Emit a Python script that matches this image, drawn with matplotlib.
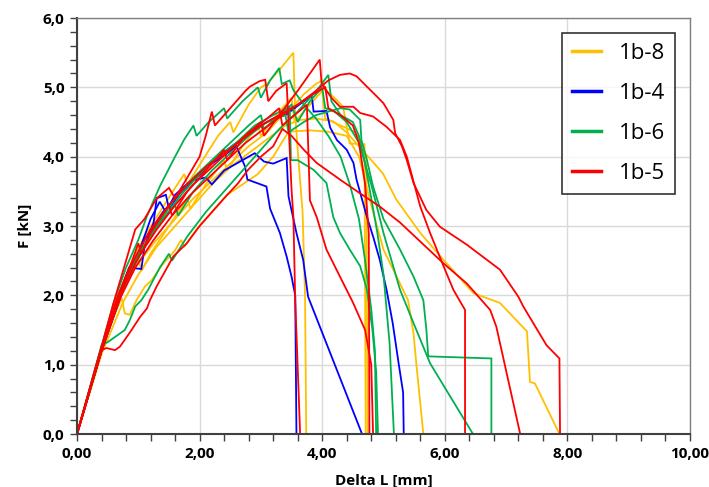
import matplotlib
matplotlib.use("Agg")
import matplotlib.pyplot as plt
from matplotlib.ticker import MultipleLocator, FuncFormatter

# force-displacement curves, Delta L in mm, F in kN
# series 1b-8
y8_1_x = [0, 0.35, 0.6, 0.85, 1.1, 1.35, 1.6, 1.75, 1.8, 2.05, 2.3, 2.5, 2.55, 2.8, 3.0, 3.1, 3.3, 3.53, 3.56, 3.6, 3.68, 3.72, 3.74]
y8_1_f = [0, 1.1, 1.85, 2.4, 2.85, 3.2, 3.55, 3.75, 3.6, 3.95, 4.3, 4.5, 4.35, 4.75, 5.0, 5.05, 5.25, 5.5, 4.6, 4.1, 3.2, 2.0, 0]
y8_2_x = [0, 0.4, 0.7, 0.95, 1.25, 1.55, 1.9, 2.2, 2.5, 2.8, 3.1, 3.3, 3.5, 3.7, 3.9, 4.0, 4.05, 4.2, 4.34, 4.45, 4.69, 4.71]
y8_2_f = [0, 1.2, 2.0, 2.4, 2.75, 3.05, 3.4, 3.65, 3.9, 4.15, 4.35, 4.55, 4.7, 4.9, 5.05, 5.1, 4.96, 4.85, 4.72, 4.19, 4.18, 0]
y8_3_x = [0, 0.4, 0.6, 0.73, 0.78, 0.86, 0.97, 1.11, 1.22, 1.4, 1.6, 1.7, 1.75, 1.95, 2.2, 2.45, 2.7, 2.95, 3.2, 3.45, 3.8, 4.1, 4.4, 4.6, 4.8, 5.0, 5.27, 5.4, 5.49, 5.54, 5.65]
y8_3_f = [0, 1.2, 1.7, 1.96, 1.74, 1.72, 1.93, 2.13, 2.22, 2.45, 2.65, 2.8, 2.7, 2.95, 3.2, 3.45, 3.6, 3.75, 4.0, 4.36, 4.38, 4.36, 4.3, 4.0, 3.3, 2.66, 2.17, 1.93, 1.45, 0.97, 0]
y8_4_x = [0, 0.4, 0.75, 1.0, 1.3, 1.6, 1.9, 2.2, 2.5, 2.8, 3.1, 3.4, 3.64, 3.9, 4.18, 4.4, 4.7, 4.99, 5.21, 5.6, 5.98, 6.47, 6.9, 7.34, 7.39, 7.47, 7.87]
y8_4_f = [0, 1.15, 1.9, 2.3, 2.7, 3.0, 3.3, 3.6, 3.85, 4.05, 4.25, 4.45, 4.53, 4.55, 4.51, 4.35, 4.05, 3.76, 3.38, 2.9, 2.51, 2.03, 1.89, 1.48, 0.75, 0.73, 0]
y8_5_x = [0, 0.4, 0.7, 0.9, 1.0, 1.05, 1.2, 1.5, 1.8, 1.85, 2.1, 2.4, 2.45, 2.7, 2.95, 3.0, 3.25, 3.5, 3.55, 3.8, 4.0, 4.05, 4.3, 4.55, 4.65, 4.72, 4.74]
y8_5_f = [0, 1.2, 2.0, 2.4, 2.55, 2.35, 2.6, 3.0, 3.4, 3.25, 3.6, 3.95, 3.8, 4.15, 4.45, 4.3, 4.6, 4.85, 4.5, 4.75, 4.95, 4.55, 4.45, 4.35, 4.2, 4.0, 0]

# series 1b-4
y4_1_x = [0, 0.4, 0.7, 0.85, 1.05, 1.1, 1.25, 1.3, 1.45, 1.5, 1.7, 1.95, 2.2, 2.45, 2.6, 2.74, 2.78, 3.09, 3.15, 3.31, 3.42, 3.5, 3.56, 3.58]
y4_1_f = [0, 1.2, 2.05, 2.4, 2.38, 2.7, 3.05, 3.4, 3.45, 3.25, 3.5, 3.7, 3.9, 4.05, 4.15, 3.86, 3.67, 3.57, 3.25, 2.9, 2.56, 2.27, 2.0, 0]
y4_2_x = [0, 0.4, 0.75, 1.0, 1.2, 1.35, 1.45, 1.6, 1.85, 2.1, 2.2, 2.4, 2.7, 2.9, 3.05, 3.2, 3.42, 3.45, 3.58, 3.69, 3.77, 4.65]
y4_2_f = [0, 1.2, 2.1, 2.6, 3.1, 3.35, 3.2, 3.45, 3.65, 3.7, 3.6, 3.8, 3.95, 4.05, 3.93, 3.9, 3.98, 3.43, 2.9, 2.51, 1.98, 0]
y4_3_x = [0, 0.4, 0.8, 1.1, 1.4, 1.7, 2.0, 2.3, 2.6, 2.9, 3.2, 3.4, 3.55, 3.7, 3.83, 3.86, 4.07, 4.13, 4.24, 4.4, 4.51, 4.56, 4.73, 4.83, 4.94, 5.05, 5.15, 5.25, 5.32, 5.33]
y4_3_f = [0, 1.2, 2.2, 2.8, 3.2, 3.5, 3.75, 4.0, 4.2, 4.4, 4.55, 4.6, 4.7, 4.8, 4.87, 4.65, 4.66, 4.42, 4.24, 4.1, 3.91, 3.67, 3.13, 2.85, 2.51, 2.08, 1.6, 1.0, 0.6, 0]

# series 1b-6
y6_1_x = [0, 0.4, 0.7, 0.9, 1.1, 1.3, 1.6, 1.65, 1.9, 2.2, 2.5, 2.8, 3.1, 3.4, 3.45, 3.7, 3.9, 4.1, 4.3, 4.45, 4.62, 4.64, 4.73, 4.83, 5.0, 5.27, 5.49, 5.65, 5.7, 5.73, 6.76, 6.76]
y6_1_f = [0, 1.2, 2.0, 2.4, 2.7, 3.0, 3.3, 3.15, 3.5, 3.8, 4.05, 4.3, 4.5, 4.6, 4.35, 4.5, 4.6, 4.65, 4.7, 4.68, 4.53, 4.24, 3.95, 3.57, 3.1, 2.66, 2.27, 1.93, 1.5, 1.12, 1.09, 0]
y6_2_x = [0, 0.4, 0.75, 1.0, 1.3, 1.6, 1.9, 2.2, 2.5, 2.8, 3.0, 3.05, 3.3, 3.5, 3.6, 3.8, 4.0, 4.05, 4.2, 4.4, 4.6, 4.8, 5.0, 5.27, 5.49, 5.76, 6.46]
y6_2_f = [0, 1.2, 2.1, 2.6, 3.0, 3.4, 3.7, 3.95, 4.2, 4.45, 4.6, 4.4, 4.6, 4.75, 4.5, 4.8, 5.0, 4.7, 4.65, 4.5, 4.2, 3.6, 2.9, 2.08, 1.6, 1.02, 0]
y6_3_x = [0, 0.4, 0.51, 0.62, 0.78, 0.86, 0.95, 1.05, 1.16, 1.35, 1.5, 1.55, 1.8, 2.1, 2.4, 2.7, 3.0, 3.3, 3.6, 3.8, 3.95, 4.1, 4.15, 4.3, 4.5, 4.6, 4.7, 4.8, 4.9, 5.0, 5.1, 5.17]
y6_3_f = [0, 1.28, 1.33, 1.4, 1.5, 1.64, 1.84, 1.93, 2.08, 2.4, 2.6, 2.5, 2.85, 3.2, 3.5, 3.8, 4.1, 4.4, 4.65, 4.85, 5.0, 5.18, 4.8, 4.6, 4.5, 4.3, 3.9, 3.4, 2.9, 2.3, 1.3, 0]
y6_4_x = [0, 0.4, 0.7, 0.95, 1.2, 1.45, 1.7, 2.0, 2.3, 2.6, 2.9, 3.2, 3.47, 3.49, 3.6, 3.86, 4.07, 4.18, 4.29, 4.45, 4.62, 4.73, 4.82, 4.88, 4.91]
y6_4_f = [0, 1.2, 2.0, 2.45, 2.85, 3.15, 3.45, 3.75, 4.0, 4.2, 4.45, 4.6, 4.72, 3.95, 3.95, 3.81, 3.62, 3.13, 2.9, 2.66, 2.42, 2.08, 1.5, 0.9, 0]
y6_5_x = [0, 0.35, 0.6, 0.8, 1.0, 1.14, 1.35, 1.57, 1.75, 1.9, 1.95, 2.15, 2.4, 2.45, 2.7, 2.95, 3.0, 3.15, 3.3, 3.34, 3.47, 3.53, 3.7, 3.9, 4.1, 4.3, 4.45, 4.6, 4.7, 4.8, 4.86, 4.88]
y6_5_f = [0, 1.1, 1.9, 2.4, 2.8, 3.14, 3.57, 3.95, 4.25, 4.45, 4.3, 4.5, 4.7, 4.55, 4.8, 5.0, 4.85, 5.1, 5.28, 5.05, 5.1, 4.96, 4.75, 4.55, 4.3, 4.0, 3.6, 3.1, 2.5, 1.8, 1.2, 0]

# series 1b-5
y5_1_x = [0, 0.4, 0.48, 0.62, 0.7, 0.78, 0.89, 1.03, 1.14, 1.19, 1.3, 1.57, 1.79, 2.0, 2.2, 2.4, 2.63, 2.79, 3.0, 3.2, 3.35, 3.5, 3.7, 3.91, 4.29, 4.62, 4.94, 5.27, 5.98, 6.36, 6.74, 6.84, 7.23]
y5_1_f = [0, 1.21, 1.24, 1.21, 1.26, 1.36, 1.5, 1.69, 1.81, 1.93, 2.13, 2.56, 2.75, 3.0, 3.2, 3.4, 3.62, 3.81, 4.0, 4.15, 4.4, 4.3, 4.1, 3.91, 3.67, 3.47, 3.28, 3.05, 2.46, 2.17, 1.79, 1.55, 0]
y5_2_x = [0, 0.35, 0.65, 0.9, 1.0, 1.05, 1.2, 1.5, 1.8, 2.1, 2.4, 2.7, 3.0, 3.3, 3.6, 3.9, 4.1, 4.29, 4.45, 4.56, 4.73, 4.89, 5.0, 5.16, 5.19, 5.3, 5.38, 5.49, 5.7, 5.92, 6.36, 6.9, 7.2, 7.28, 7.66, 7.87, 7.88]
y5_2_f = [0, 1.1, 1.95, 2.5, 2.75, 2.6, 2.9, 3.3, 3.6, 3.85, 4.05, 4.25, 4.45, 4.6, 4.75, 4.95, 5.1, 5.18, 5.2, 5.16, 5.01, 4.87, 4.77, 4.53, 4.34, 4.15, 3.95, 3.62, 3.23, 2.99, 2.73, 2.37, 1.98, 1.84, 1.28, 1.09, 0]
y5_3_x = [0, 0.4, 0.7, 0.95, 1.2, 1.5, 1.55, 1.8, 2.1, 2.4, 2.45, 2.7, 3.0, 3.05, 3.3, 3.6, 3.8, 3.96, 3.99, 4.15, 4.29, 4.51, 4.62, 4.83, 5.05, 5.27, 5.38, 5.6, 5.76, 5.98, 6.14, 6.33, 6.33]
y5_3_f = [0, 1.2, 2.05, 2.55, 2.95, 3.3, 3.15, 3.5, 3.8, 4.1, 3.95, 4.25, 4.5, 4.3, 4.6, 4.95, 5.2, 5.4, 5.06, 4.85, 4.72, 4.72, 4.63, 4.58, 4.43, 4.24, 4.0, 3.28, 2.9, 2.42, 2.08, 1.79, 0]
y5_4_x = [0, 0.35, 0.6, 0.8, 0.95, 1.1, 1.3, 1.5, 1.6, 1.8, 2.0, 2.1, 2.2, 2.25, 2.5, 2.75, 2.82, 2.98, 3.07, 3.12, 3.25, 3.42, 3.45, 3.5, 3.53, 3.56, 3.64]
y5_4_f = [0, 1.1, 1.9, 2.5, 2.95, 3.1, 3.4, 3.55, 3.4, 3.7, 4.0, 4.3, 4.65, 4.45, 4.7, 4.95, 5.01, 5.09, 5.11, 4.8, 4.95, 5.06, 4.5, 3.52, 3.13, 1.93, 0]
y5_5_x = [0, 0.4, 0.75, 1.0, 1.3, 1.6, 1.9, 2.2, 2.5, 2.8, 3.1, 3.3, 3.35, 3.55, 3.75, 3.8, 3.91, 4.07, 4.29, 4.5, 4.7, 4.8, 4.83]
y5_5_f = [0, 1.2, 2.1, 2.55, 2.95, 3.3, 3.6, 3.85, 4.1, 4.35, 4.55, 4.7, 4.45, 4.6, 4.75, 3.37, 3.13, 2.66, 2.27, 1.9, 1.5, 1.0, 0]
y5_6_x = [0, 0.4, 0.7, 0.95, 1.25, 1.55, 1.85, 2.15, 2.45, 2.75, 3.05, 3.35, 3.6, 3.85, 4.05, 4.1, 4.3, 4.5, 4.6, 4.7, 4.76, 4.77]
y5_6_f = [0, 1.2, 1.95, 2.4, 2.8, 3.15, 3.45, 3.7, 3.95, 4.2, 4.4, 4.6, 4.75, 4.9, 5.0, 4.7, 4.6, 4.45, 4.2, 3.6, 2.9, 0]

series = [
    ("1b-8", "#ffc000", [(y8_1_x, y8_1_f), (y8_2_x, y8_2_f), (y8_3_x, y8_3_f), (y8_4_x, y8_4_f), (y8_5_x, y8_5_f)]),
    ("1b-4", "#0000ff", [(y4_1_x, y4_1_f), (y4_2_x, y4_2_f), (y4_3_x, y4_3_f)]),
    ("1b-6", "#00b050", [(y6_1_x, y6_1_f), (y6_2_x, y6_2_f), (y6_3_x, y6_3_f), (y6_4_x, y6_4_f), (y6_5_x, y6_5_f)]),
    ("1b-5", "#ff0000", [(y5_1_x, y5_1_f), (y5_2_x, y5_2_f), (y5_3_x, y5_3_f), (y5_4_x, y5_4_f), (y5_5_x, y5_5_f), (y5_6_x, y5_6_f)]),
]

plt.rcParams['font.family'] = ['Open Sans', 'DejaVu Sans']

fig = plt.figure(figsize=(7.09, 4.87), dpi=100)
ax = fig.add_axes([0.1086, 0.1088, 0.8646, 0.8542])

for name, color, curves in series:
    for i, (x, f) in enumerate(curves):
        ax.plot(x, f, color=color, lw=1.3, label=name if i == 0 else None,
                solid_joinstyle='miter')

ax.set_xlim(0, 10)
ax.set_ylim(0, 6)
ax.xaxis.set_major_locator(MultipleLocator(2))
ax.xaxis.set_minor_locator(MultipleLocator(0.4))
ax.yaxis.set_major_locator(MultipleLocator(1))
ax.yaxis.set_minor_locator(MultipleLocator(0.2))
ax.xaxis.set_major_formatter(FuncFormatter(lambda v, p: f"{v:.2f}".replace(".", ",")))
ax.yaxis.set_major_formatter(FuncFormatter(lambda v, p: f"{v:.1f}".replace(".", ",")))

ax.grid(True, which='major', color='#d9d9d9', lw=1)
ax.set_axisbelow(True)
ax.tick_params(which='both', direction='out', color='#404040', width=1)
ax.tick_params(which='major', length=5, labelsize=11, pad=4)
ax.tick_params(which='minor', length=5)
for lab in ax.get_xticklabels() + ax.get_yticklabels():
    lab.set_fontweight('bold')

for side in ('left', 'bottom'):
    ax.spines[side].set_color('#404040')
    ax.spines[side].set_linewidth(1.5)
for side in ('top', 'right'):
    ax.spines[side].set_color('#808080')
    ax.spines[side].set_linewidth(1.0)

ax.set_xlabel('Delta L [mm]', fontsize=11, fontweight='bold')
ax.xaxis.set_label_coords(0.5, -0.095)
ax.set_ylabel('F [kN]', fontsize=11, fontweight='bold', labelpad=8)

leg = ax.legend(loc='upper right', bbox_to_anchor=(0.9755, 0.964), fontsize=16,
                frameon=True, fancybox=False, edgecolor='black', handlelength=1.3,
                handletextpad=0.8, labelspacing=0.85, borderpad=0.45, borderaxespad=0)
leg.get_frame().set_linewidth(1.2)
for line in leg.get_lines():
    line.set_linewidth(2.5)

fig.savefig('out.png', dpi=100)
